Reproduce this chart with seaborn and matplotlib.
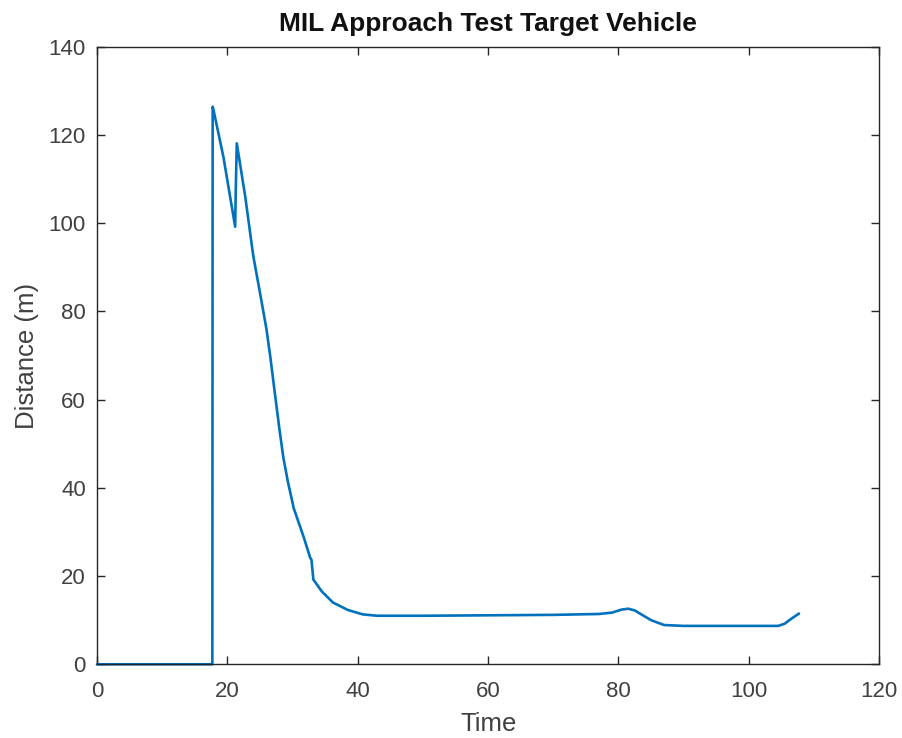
import matplotlib
matplotlib.use("Agg")
import matplotlib.pyplot as plt
import seaborn as sns
import pandas as pd

# Target distance trace over the MIL approach run
time = [0, 17.7, 17.75, 17.9, 19.4, 21.2, 21.3, 21.45, 22.75, 23.8, 24.0,
        25.0, 26.0, 26.6, 27.2, 28.0, 28.6, 29.3, 30.2, 31.7, 32.7, 32.9,
        33.2, 34.5, 36.2, 38.5, 40.8, 43.0, 50.0, 60.0, 70.0, 77.0, 79.0,
        80.5, 81.5, 82.5, 85.0, 87.0, 90.0, 100.0, 104.5, 105.5, 106.5, 107.7]
distance = [0, 0, 126.4, 125.5, 115.0, 99.2, 108.0, 118.1, 106.0, 94.5, 92.4,
            84.3, 76.0, 69.6, 62.5, 53.2, 46.8, 41.3, 35.3, 28.9, 24.2, 23.7,
            19.2, 16.5, 14.0, 12.3, 11.3, 11.0, 11.0, 11.1, 11.2, 11.4, 11.7,
            12.4, 12.6, 12.2, 10.0, 8.9, 8.7, 8.7, 8.7, 9.2, 10.3, 11.5]

x_ticks = [0, 20, 40, 60, 80, 100, 120]
y_ticks = [0, 20, 40, 60, 80, 100, 120, 140]

sns.set_theme(style="white")
plt.rcParams["font.family"] = ["Liberation Sans", "DejaVu Sans"]

df = pd.DataFrame({"Time": time, "Distance": distance})

fig = plt.figure(figsize=(9.02, 7.38), dpi=100)
ax = fig.add_axes([0.1075, 0.0999, 0.8672, 0.8368])

sns.lineplot(data=df, x="Time", y="Distance", sort=False, estimator=None,
             color="#0072BD", linewidth=1.9, ax=ax)
for line in ax.get_lines():
    line.set_clip_on(False)

ax.set_xlim(0, 120)
ax.set_ylim(0, 140)
ax.set_xticks(x_ticks)
ax.set_yticks(y_ticks)

edge = "#262626"
label_col = "#404040"
for s in ax.spines.values():
    s.set_color(edge)
    s.set_linewidth(1.0)
    s.set_visible(True)

ax.tick_params(direction="in", length=6, width=1.0, color=edge,
               labelcolor=label_col, labelsize=16, top=True, right=True,
               bottom=True, left=True)
ax.tick_params(axis="x", pad=12)
ax.tick_params(axis="y", pad=8)

ax.set_xlabel("Time", fontsize=18.5, color=label_col, labelpad=7)
ax.set_ylabel("Distance (m)", fontsize=18.5, color=label_col, labelpad=7)
ax.set_title("MIL Approach Test Target Vehicle", fontsize=19,
             fontweight="bold", color="#111111", pad=11)

fig.savefig("out.png", dpi=100, facecolor="white")
